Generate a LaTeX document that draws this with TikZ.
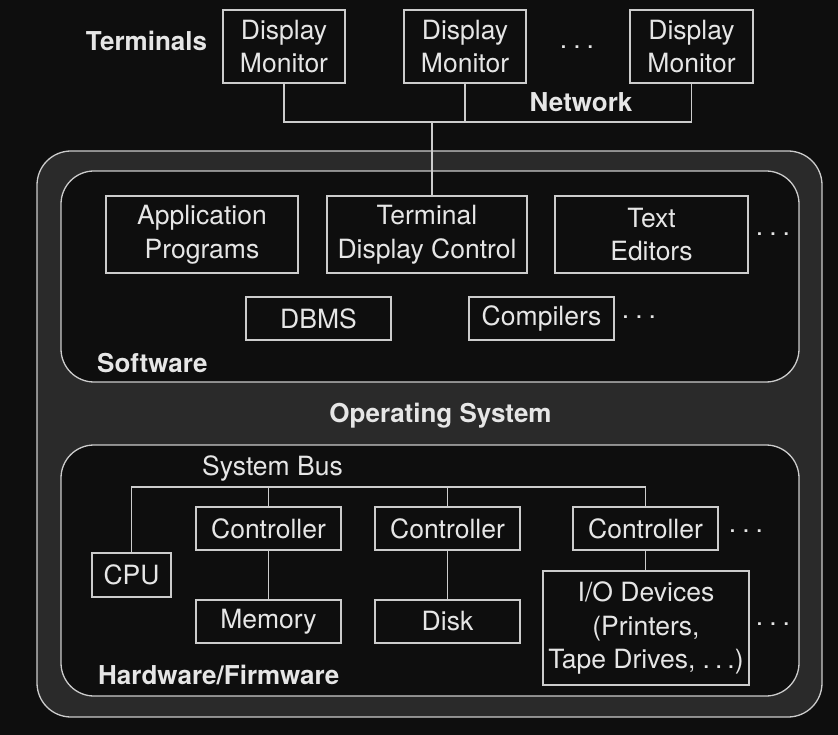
\documentclass[tikz,border=0pt]{standalone}
\usepackage{fontspec}
\setmainfont{TeX Gyre Heros}
\definecolor{bg}{HTML}{0E0E0E}
\definecolor{osfill}{HTML}{2A2A2A}
\definecolor{linec}{HTML}{CCCCCC}
\definecolor{txt}{HTML}{E6E6E6}
\begin{document}
\begin{tikzpicture}[x=1pt,y=-1pt,
  conn/.style={draw=linec,line width=1.3pt},
  box/.style={draw=linec,fill=bg,line width=1.3pt,inner sep=0pt,align=center,text=txt,
    font=\fontsize{26.5}{33.5}\selectfont},
  lbl/.style={text=txt,inner sep=0pt,font=\fontsize{26}{30}\selectfont\bfseries},
  plain/.style={text=txt,inner sep=0pt,font=\fontsize{26.5}{30}\selectfont},
  dotsl/.style={text=txt,inner sep=0pt,anchor=base,font=\fontsize{26.5}{30}\selectfont}]
\useasboundingbox (0,0) rectangle (838,735);
\fill[bg] (0,0) rectangle (838,735);
% Operating system and inner regions
\draw[conn,fill=osfill,rounded corners=34pt] (37,151) rectangle (822,717);
\draw[conn,fill=bg,rounded corners=33pt] (61,171) rectangle (799,382);
\draw[conn,fill=bg,rounded corners=33pt] (61,445) rectangle (799,696);
% Terminals
\node[box,minimum width=122pt,minimum height=73pt] (dm1) at (284,46.5) {Display\\Monitor};
\node[box,minimum width=122pt,minimum height=73pt] (dm2) at (465,46.5) {Display\\Monitor};
\node[box,minimum width=123pt,minimum height=73pt] (dm3) at (691.5,46.5) {Display\\Monitor};
\node[lbl,anchor=base] (terminals) at (146.5,51) {Terminals};
\node[dotsl] (tdots) at (577,49) {.\hspace{6pt}.\hspace{6pt}.};
\node[lbl,anchor=base] (network) at (581,112) {Network};
% Software
\node[box,minimum width=192pt,minimum height=77pt] (app) at (202,234.5) {Application\\Programs};
\node[box,minimum width=200pt,minimum height=77pt] (tdc) at (427,234.5) {Terminal\\Display Control};
\node[box,minimum width=193pt,minimum height=77pt] (ted) at (651.5,234.5) {Text\\Editors};
\node[dotsl] (sdots1) at (773,236) {.\hspace{6pt}.\hspace{6pt}.};
\node[box,minimum width=145pt,minimum height=43pt] (dbms) at (318.5,318.5) {DBMS};
\node[box,minimum width=145pt,minimum height=43pt] (comp) at (541.5,318.5) {Compilers};
\node[dotsl] (sdots2) at (639,319) {.\hspace{6pt}.\hspace{6pt}.};
\node[lbl,anchor=base west] (software) at (97,372) {Software};
\node[lbl,anchor=base] (os) at (440.5,422) {Operating System};
% Hardware
\node[plain,anchor=base] (sysbus) at (272.5,475) {System Bus};
\node[box,minimum width=79pt,minimum height=44pt] (cpu) at (131.5,575) {CPU};
\node[box,minimum width=145pt,minimum height=43pt] (c1) at (268.5,528.5) {Controller};
\node[box,minimum width=145pt,minimum height=43pt] (mem) at (268.5,621.5) {Memory};
\node[box,minimum width=145pt,minimum height=43pt] (c2) at (447.5,528.5) {Controller};
\node[box,minimum width=145pt,minimum height=43pt] (disk) at (447.5,621.5) {Disk};
\node[box,minimum width=145pt,minimum height=43pt] (c3) at (645.5,528.5) {Controller};
\node[box,minimum width=206pt,minimum height=114pt] (io) at (646,628) {I/O Devices\\(Printers,\\Tape Drives, .\hspace{5pt}.\hspace{5pt}.)};
\node[dotsl] (hdots1) at (746,532) {.\hspace{6pt}.\hspace{6pt}.};
\node[dotsl] (hdots2) at (773,625) {.\hspace{6pt}.\hspace{6pt}.};
\node[lbl,anchor=base west] (hw) at (98,684) {Hardware/Firmware};
% Network connectors
\coordinate (netR) at (691.5,122);
\coordinate (netT) at (432,122);
\draw[conn] (dm1.south) |- (netR) -- (dm3.south);
\draw[conn] (dm2.south) -- (dm2.south |- netR);
\draw[conn] (netT) -- (netT |- tdc.north);
% System bus connectors
\coordinate (busR) at (645.5,487);
\draw[conn] (cpu.north) |- (busR) -- (c3.north);
\draw[conn] (c1.north) -- (c1.north |- busR);
\draw[conn] (c2.north) -- (c2.north |- busR);
\draw[conn] (c1.south) -- (mem.north);
\draw[conn] (c2.south) -- (disk.north);
\draw[conn] (c3.south) -- (c3.south |- io.north);
\end{tikzpicture}
\end{document}
